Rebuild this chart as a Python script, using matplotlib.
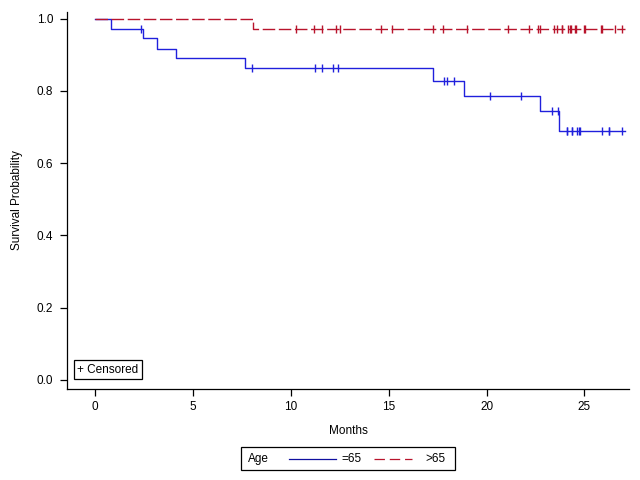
import matplotlib
matplotlib.use("Agg")
import matplotlib.pyplot as plt
from matplotlib.lines import Line2D
from matplotlib.patches import Rectangle
import numpy as np

plt.rcParams['font.family'] = ['Liberation Sans', 'DejaVu Sans']
plt.rcParams['font.size'] = 8.5
plt.rcParams['lines.scale_dashes'] = False

# Kaplan-Meier step curves (time in months, survival)
young_times = [0, 0.80, 2.45, 3.14, 4.14, 7.67, 17.28, 18.87, 22.75, 23.72]
young_surv = [1.0, 0.972, 0.945, 0.917, 0.890, 0.862, 0.826, 0.787, 0.743, 0.690]
young_end = 27.08
young_censor = [2.32, 8.03, 11.25, 11.61, 12.17, 12.42, 17.84, 17.97, 18.35,
                20.19, 21.78, 23.36, 23.67, 24.10, 24.13, 24.36, 24.39, 24.61,
                24.74, 24.78, 25.89, 26.25, 26.28, 26.91]

old_times = [0, 8.06]
old_surv = [1.0, 0.972]
old_end = 27.08
old_censor = [10.25, 11.17, 11.61, 12.29, 12.51, 14.62, 15.18, 17.28, 17.79,
              19.02, 21.11, 22.19, 22.65, 22.75, 23.47, 23.62, 23.84, 23.88,
              24.17, 24.27, 24.31, 24.51, 24.55, 24.97, 25.01, 25.85, 25.89,
              26.58, 26.91]

blue = '#2020dc'
red = '#b8142c'
dash = (9.0, 2.6)


def level_at(times, surv, t):
    # survival level of the step curve at time t
    i = np.searchsorted(times, t, side='right') - 1
    return np.array(surv)[i]


fig = plt.figure(figsize=(6.4, 4.8), dpi=100)
ax = fig.add_axes([67 / 640, 1 - 389 / 480, 562 / 640, 377 / 480])

# blue curve (=65)
ax.step(young_times + [young_end], young_surv + [young_surv[-1]], where='post',
        color=blue, lw=1.0)
ax.plot(young_censor, level_at(young_times, young_surv, young_censor), ls='none',
        marker='|', ms=5.5, mew=1.0, color=blue)

# red curve (>65)
ax.step(old_times + [old_end], old_surv + [old_surv[-1]], where='post',
        color=red, lw=1.0, dashes=dash)
ax.plot(old_censor, level_at(old_times, old_surv, old_censor), ls='none',
        marker='|', ms=5.5, mew=1.0, color=red)

ax.set_xlim(-1.447, 27.28)
ax.set_ylim(-0.0249, 1.018)
ax.set_xticks([0, 5, 10, 15, 20, 25])
ax.set_yticks([0.0, 0.2, 0.4, 0.6, 0.8, 1.0])
ax.set_yticklabels(['0.0', '0.2', '0.4', '0.6', '0.8', '1.0'])
ax.spines['top'].set_visible(False)
ax.spines['right'].set_visible(False)
for s in ['left', 'bottom']:
    ax.spines[s].set_linewidth(0.9)
ax.tick_params(axis='both', direction='out', length=5, width=0.9)
ax.tick_params(axis='x', pad=4)
ax.tick_params(axis='y', pad=5)
ax.set_xlabel('Months', labelpad=8)
ax.set_ylabel('Survival Probability', labelpad=10)

ax.text(0.018, 0.035, '+ Censored', transform=ax.transAxes, va='bottom', ha='left',
        bbox=dict(boxstyle='square,pad=0.3', fc='white', ec='black', lw=0.9))

# legend drawn by hand, to keep the "Age" heading on the left
fig.add_artist(Rectangle((241 / 640, 1 - 470 / 480), 214 / 640, 23 / 480,
                         transform=fig.transFigure, fill=False, ec='black', lw=0.9))
ly = 1 - 459 / 480
fig.text(248 / 640, ly, 'Age', va='center', ha='left')
fig.add_artist(Line2D([289 / 640, 336 / 640], [ly, ly], transform=fig.transFigure,
                      color='#1010a0', lw=0.9))
fig.text(341 / 640, ly, '=65', va='center', ha='left')
fig.add_artist(Line2D([374 / 640, 412 / 640], [ly, ly], transform=fig.transFigure,
                      color=red, lw=0.9, dashes=(7.5, 3.5)))
fig.text(425 / 640, ly, '>65', va='center', ha='left')

fig.savefig('out.png', dpi=100)
